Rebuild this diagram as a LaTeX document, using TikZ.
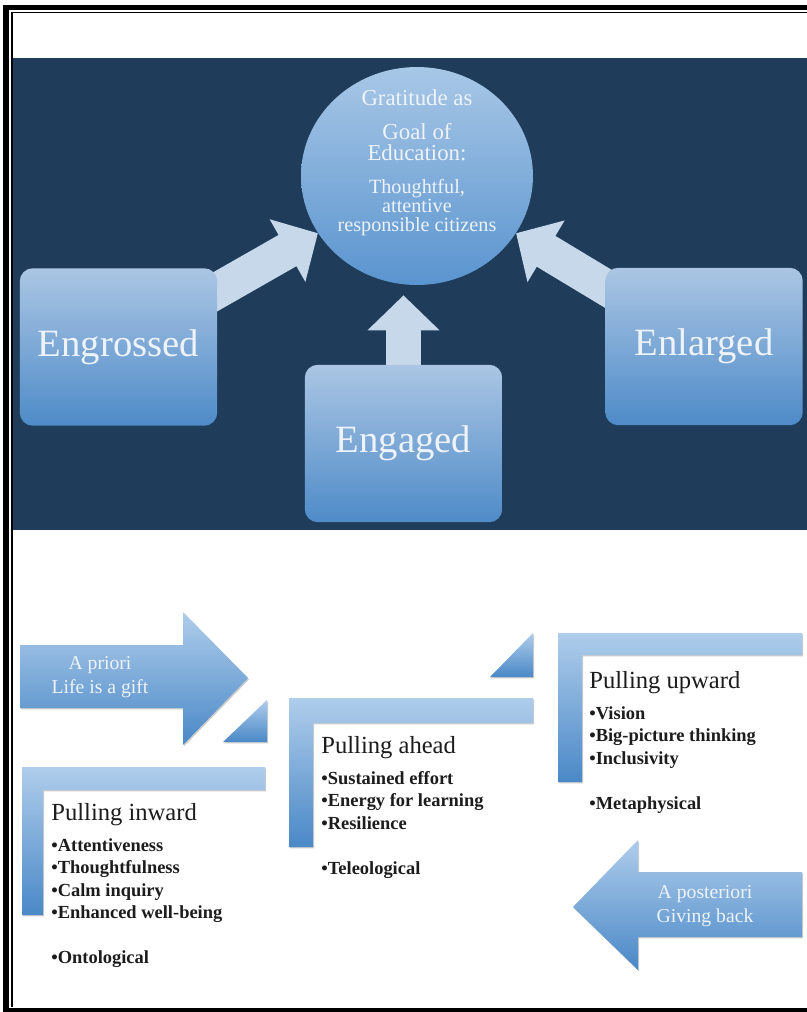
\documentclass[tikz,border=0pt]{standalone}
\usepackage{fontspec}
\setmainfont{Liberation Serif}
\usetikzlibrary{shapes.geometric,arrows.meta,shadows}

\definecolor{panelblue}{HTML}{1F3D5A}
\definecolor{pullblue}{HTML}{C8D8EB}
\definecolor{boxtop}{HTML}{ABC6E4}
\definecolor{boxbottom}{HTML}{4E8BC8}
\definecolor{goaltop}{HTML}{A8C7E6}
\definecolor{goalbottom}{HTML}{5A94CF}
\definecolor{paletext}{HTML}{EEF3F9}
\definecolor{lowtop}{HTML}{AFCDEB}
\definecolor{lowbottom}{HTML}{4A88C7}
\definecolor{listgrey}{HTML}{1C1C1C}

\pgfdeclarelayer{back}
\pgfdeclarelayer{links}
\pgfsetlayers{back,links,main}

\begin{document}
\begin{tikzpicture}[x=0.02cm, y=-0.02cm,
    stagebox/.style={rectangle, rounded corners=0.26cm, minimum width=3.95cm, minimum height=3.15cm,
      top color=boxtop, bottom color=boxbottom, text=paletext, font=\fontsize{22}{26}\selectfont},
    goalshape/.style={ellipse, minimum width=4.64cm, minimum height=4.36cm, inner sep=0pt,
      top color=goaltop, bottom color=goalbottom},
    goaltext/.style={align=center, text=paletext, font=\fontsize{11.5}{10.8}\selectfont},
    pull/.style={draw=pullblue, line width=0.72cm, -{Triangle[length=0.7cm, width=1.4cm]}},
    lowshape/.style={top color=lowtop, bottom color=lowbottom,
      drop shadow={shadow xshift=0.6pt, shadow yshift=-0.8pt, opacity=0.2, fill=black}},
    arrowtext/.style={align=center, text=paletext, font=\fontsize{11.2}{14}\selectfont},
    listtext/.style={anchor=north west, inner sep=0pt, align=left, text=listgrey,
      font=\bfseries\fontsize{10.5}{12.9}\selectfont}]
  \useasboundingbox (0,0) rectangle (807,1012);

  % page and dark panel
  \begin{pgfonlayer}{back}
    \fill[white] (0,0) rectangle (807,1012);
    \fill[panelblue] (13,58) rectangle (807,530);
  \end{pgfonlayer}

  % upper part: goal and the three stages
  \node[goalshape] (goal) at (417,176) {};
  \node[goaltext] (goaltext) at (417,163) {{\fontsize{13}{10.8}\selectfont Gratitude as}\\[8.5pt]
    {\fontsize{13}{10.8}\selectfont Goal of}\\[1.2pt] {\fontsize{13}{10.8}\selectfont Education:}\\[8pt]
    Thoughtful,\\ attentive\\ responsible citizens};
  \node[stagebox] (engrossed) at (118.5,347) {Engrossed};
  \node[stagebox] (engaged) at (403.5,443.5) {Engaged};
  \node[stagebox] (enlarged) at (704,346.5) {Enlarged};

  \begin{pgfonlayer}{links}
    \draw[pull] (engrossed.center) -- (goal.210);
    \draw[pull, shorten >=0.2cm] (engaged.center) -- (engaged.center |- goal.south);
    \draw[pull] (enlarged.center) -- (goal.330);
  \end{pgfonlayer}

  % lower part: a priori arrow and pulling inward
  \path[lowshape] (20,645) -- (183,645) -- (183,612) -- (248,678) -- (183,745) -- (183,708) -- (20,708) -- cycle;
  \node[arrowtext] (apriori) at (100,677) {A priori\\Life is a gift};
  \path[lowshape] (223,742) -- (267,742) -- (267,700) -- cycle;
  \path[lowshape] (22,767) -- (265,767) -- (265,790) -- (43,790) -- (43,915) -- (22,915) -- cycle;
  \node[listtext] (inward) at (51,803) {{\mdseries\fontsize{14}{12.9}\selectfont Pulling inward}\\[4.5pt]
    •Attentiveness\\ •Thoughtfulness\\ •Calm inquiry\\ •Enhanced well-being\\[12.6pt] •Ontological};

  % pulling ahead
  \path[lowshape] (490,677) -- (533,677) -- (533,633) -- cycle;
  \path[lowshape] (289,698) -- (533,698) -- (533,723) -- (313,723) -- (313,847) -- (289,847) -- cycle;
  \node[listtext] (ahead) at (321,736) {{\mdseries\fontsize{14}{12.9}\selectfont Pulling ahead}\\[4.5pt]
    •Sustained effort\\ •Energy for learning\\ •Resilience\\[12.6pt] •Teleological};

  % pulling upward and a posteriori arrow
  \path[lowshape] (558,633) -- (802,633) -- (802,655) -- (582,655) -- (582,782) -- (558,782) -- cycle;
  \node[listtext] (upward) at (589,671) {{\mdseries\fontsize{14}{12.9}\selectfont Pulling upward}\\[4.5pt]
    •Vision\\ •Big-picture thinking\\ •Inclusivity\\[12.6pt] •Metaphysical};
  \path[lowshape] (802,872) -- (638,872) -- (638,840) -- (573,907) -- (638,970) -- (638,937) -- (802,937) -- cycle;
  \node[arrowtext] (aposteriori) at (705,906) {A posteriori\\Giving back};

  % frame
  \draw[line width=0.12cm] (6,5) -- (6,1012);
  \draw[line width=0.1cm] (3,7.5) -- (807,7.5);
  \draw[line width=0.07cm] (3,1010) -- (807,1010);
  \draw[line width=0.03cm] (12,1007) -- (12,12.5) -- (807,12.5);
\end{tikzpicture}
\end{document}
